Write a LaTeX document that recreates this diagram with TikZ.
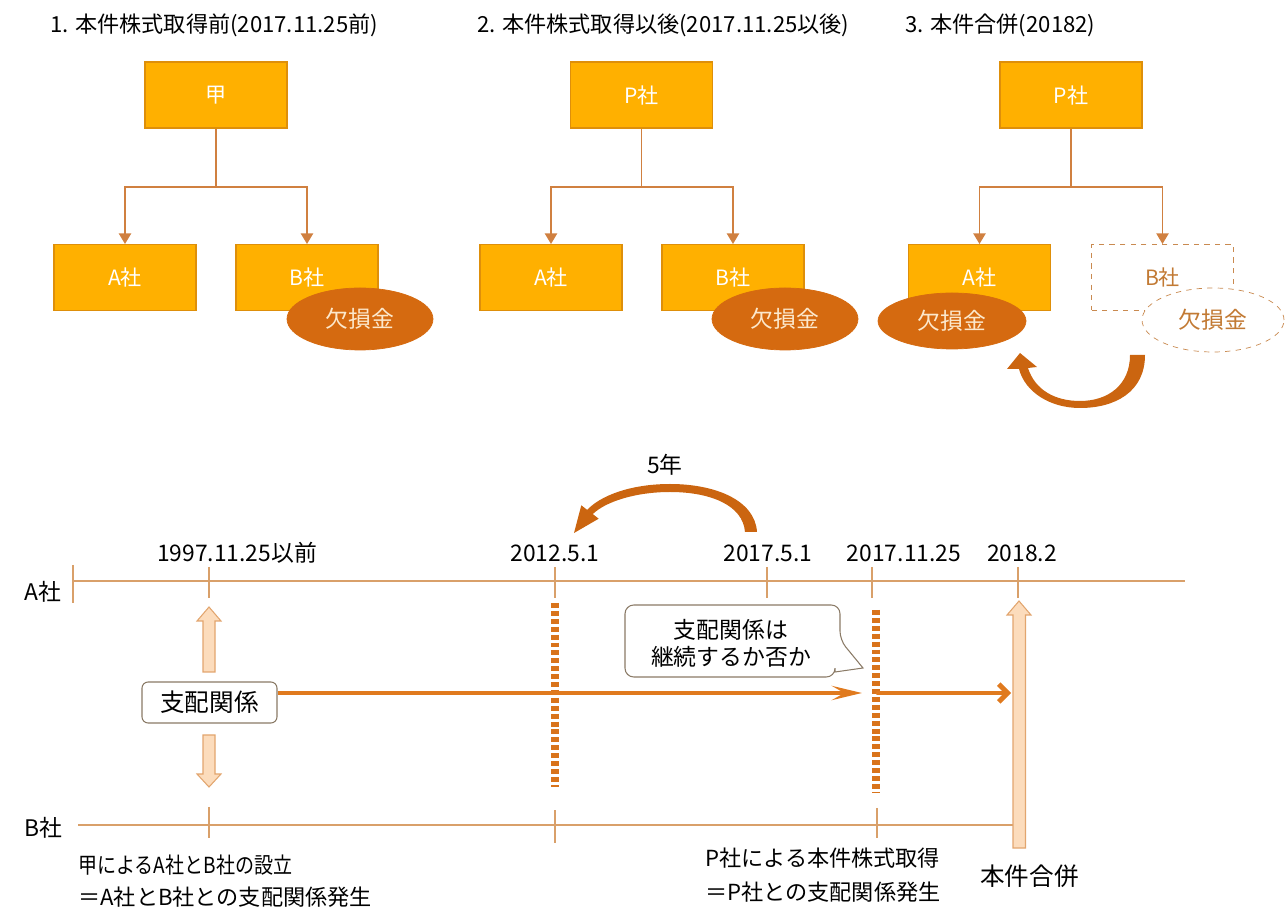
\documentclass[tikz,border=0pt]{standalone}
\usepackage{fontspec}
\setmainfont{Noto Sans CJK JP}
\usetikzlibrary{arrows.meta,shapes.geometric}
\definecolor{boxfill}{HTML}{FFB000}
\definecolor{boxline}{HTML}{DE8F0A}
\definecolor{conncol}{HTML}{D08040}
\definecolor{lossfill}{HTML}{D56A10}
\definecolor{losstext}{HTML}{FCE8CC}
\definecolor{dashcol}{HTML}{C98A50}
\definecolor{tlcol}{HTML}{D9A06A}
\definecolor{thickcol}{HTML}{E07A1E}
\definecolor{peach}{HTML}{FCDCBC}
\definecolor{peachline}{HTML}{E2A56E}
\definecolor{curvcol}{HTML}{CB6510}
\definecolor{btext}{HTML}{C27A34}
\definecolor{vdash}{HTML}{D9731A}
\definecolor{ctrlline}{HTML}{8A7A66}
\tikzset{
  obox/.style={draw=boxline, fill=boxfill, line width=0.6pt, minimum width=142*0.02cm, minimum height=66*0.02cm, inner sep=0pt, text=white, font=\fontsize{12}{14}\selectfont},
  dbox/.style={draw=dashcol, dashed, fill=white, line width=0.6pt, minimum width=142*0.02cm, minimum height=66*0.02cm, inner sep=0pt, text=btext, font=\fontsize{12}{14}\selectfont},
  loss/.style={ellipse, fill=lossfill, draw=lossfill, minimum width=146*0.02cm, minimum height=62*0.02cm, inner sep=0pt, text=losstext, font=\fontsize{13}{15}\selectfont},
  dloss/.style={ellipse, fill=white, draw=dashcol, dashed, minimum width=142*0.02cm, minimum height=64*0.02cm, inner sep=0pt, text=btext, font=\fontsize{13}{15}\selectfont},
  conn/.style={draw=conncol, line width=0.7pt},
  connarr/.style={conn, -{Triangle[length=6pt,width=7pt]}},
  title/.style={anchor=west, inner sep=0pt, font=\fontsize{12.6}{14}\selectfont},
  lbl/.style={inner sep=0pt, font=\fontsize{13}{15}\selectfont},
  tl/.style={draw=tlcol, line width=0.7pt},
  vdashed/.style={draw=vdash, line width=4pt, dash pattern=on 2.8pt off 1.7pt},
  thickline/.style={draw=thickcol, line width=2.8pt},
  peacharrow/.style={fill=peach, draw=peachline, line width=0.6pt},
  ctrl/.style={draw=ctrlline, fill=white, rounded corners=3.5pt, line width=0.6pt, minimum width=135*0.02cm, minimum height=41*0.02cm, inner sep=0pt, font=\fontsize{14}{16}\selectfont},
  btm/.style={anchor=west, inner sep=0pt, font=\fontsize{12.6}{15}\selectfont}
}
\begin{document}
\begin{tikzpicture}[x=0.02cm, y=-0.02cm]
\useasboundingbox (0,0) rectangle (1285,911);
% ---------- Panel 1 ----------
\node[title] (t1) at (50,25) {1. 本件株式取得前(2017.11.25前)};
\node[obox] (k) at (216,95) {甲};
\node[obox] (a1) at (125,277.5) {A社};
\node[obox] (b1) at (307,277.5) {B社};
\node[loss] (l1) at (360,319) {欠損金};
\coordinate (j1) at (216,187);
\draw[conn] (k.south) -- (j1);
\draw[connarr] (j1) -| (a1.north);
\draw[connarr] (j1) -| (b1.north);
% ---------- Panel 2 ----------
\node[title] (t2) at (477,25) {2. 本件株式取得以後(2017.11.25以後)};
\node[obox] (p2) at (641.5,95) {P社};
\node[obox] (a2) at (551,277.5) {A社};
\node[obox] (b2) at (733,277.5) {B社};
\node[loss] (l2) at (785,319) {欠損金};
\coordinate (j2) at (641.5,187);
\draw[conn] (p2.south) -- (j2);
\draw[connarr] (j2) -| (a2.north);
\draw[connarr] (j2) -| (b2.north);
% ---------- Panel 3 ----------
\node[title] (t3) at (905,25) {3. 本件合併(20182)};
\node[obox] (p3) at (1071,95) {P社};
\node[obox] (a3) at (979.5,277.5) {A社};
\node[dbox] (b3) at (1162.5,277.5) {B社};
\node[loss, minimum width=148*0.02cm, minimum height=56*0.02cm] (l3) at (952,321) {欠損金};
\node[dloss] (l4) at (1213,320) {欠損金};
\coordinate (j3) at (1071,187);
\draw[conn] (p3.south) -- (j3);
\draw[connarr] (j3) -| (a3.north);
\draw[connarr] (j3) -| (b3.north);
% curved transfer arrow
\fill[curvcol] (1130,355) -- (1145,355) .. controls (1145,392) and (1115,408) .. (1080,408)
  .. controls (1050,408) and (1025,392) .. (1019,369) -- (1007,369) -- (1020,353) -- (1037,367)
  -- (1028,368) .. controls (1035,390) and (1055,401) .. (1080,401)
  .. controls (1108,401) and (1130,385) .. (1130,355) -- cycle;
% ---------- Timeline ----------
\node[lbl] (y5) at (665,465) {5年};
\fill[curvcol] (745,532) -- (757,532) .. controls (755,500) and (715,484) .. (670,484)
  .. controls (630,484) and (600,496) .. (587.2,509.9) -- (581.3,505.3) -- (574,533)
  -- (598.7,518.7) -- (592.8,514.1) .. controls (605,502) and (635,492) .. (670,492)
  .. controls (710,492) and (743,505) .. (745,532) -- cycle;
\node[lbl] (d1) at (237,553) {1997.11.25以前};
\node[lbl] (d2) at (555,553) {2012.5.1};
\node[lbl] (d3) at (768,553) {2017.5.1};
\node[lbl] (d4) at (904,553) {2017.11.25};
\node[lbl] (d5) at (1022,553) {2018.2};
\node[lbl] (la) at (43,592) {A社};
\node[lbl] (lb) at (43,828) {B社};
% A line
\draw[tl] (73,565) -- (73,603);
\draw[tl] (73,581) -- (1185,581);
\foreach \x in {209,555,767,872,1018} \draw[tl] (\x,567) -- (\x,598);
% B line
\draw[tl] (78,825) -- (1013,825);
\draw[tl] (209,807) -- (209,838);
\draw[tl] (555,810) -- (555,843);
\draw[tl] (877,808) -- (877,838);
% dashed verticals
\draw[vdashed] (555,603) -- (555,787);
\draw[vdashed] (876,610) -- (876,793);
% peach arrows
\draw[peacharrow] (209,607) -- (221,621) -- (215,621) -- (215,672) -- (203,672) -- (203,621) -- (197,621) -- cycle;
\draw[peacharrow] (209,787) -- (221,774) -- (215,774) -- (215,735) -- (203,735) -- (203,774) -- (197,774) -- cycle;
\draw[peacharrow] (1019,601) -- (1031,615) -- (1025.5,615) -- (1025.5,848) -- (1013,848) -- (1013,615) -- (1007,615) -- cycle;
% control box and arrows
\node[ctrl] (c) at (209.5,702.5) {支配関係};
\draw[thickline, -{Stealth[length=17pt,width=8pt,inset=7pt]}] (c.east |- 0,693) -- (862,693);
\draw[thickline, -{Straight Barb[length=5pt,width=10pt]}, line cap=round] (878,693) -- (1011,693);
% callout
\node[lbl, align=center, font=\fontsize{13}{15.5}\selectfont] (q) at (731,643) {支配関係は\\継続するか否か};
\draw[draw=ctrlline, line width=0.6pt, rounded corners=5pt] (625,641) |- (840,605) -- (840,640)
  [sharp corners] -- (863,668) -- (835,672) [rounded corners=5pt] -- (835,677) -| (625,641) -- cycle;
% bottom texts
\node[btm] (e1) at (78,865) {\scalebox{0.86}[1]{甲によるA社とB社の設立}};
\node[btm] (e2) at (78,897) {＝A社とB社との支配関係発生};
\node[btm] (e3) at (705,858) {P社による本件株式取得};
\node[btm] (e4) at (705,892) {＝P社との支配関係発生};
\node[btm, font=\fontsize{14}{16}\selectfont] (e5) at (980,876) {本件合併};
\end{tikzpicture}
\end{document}
